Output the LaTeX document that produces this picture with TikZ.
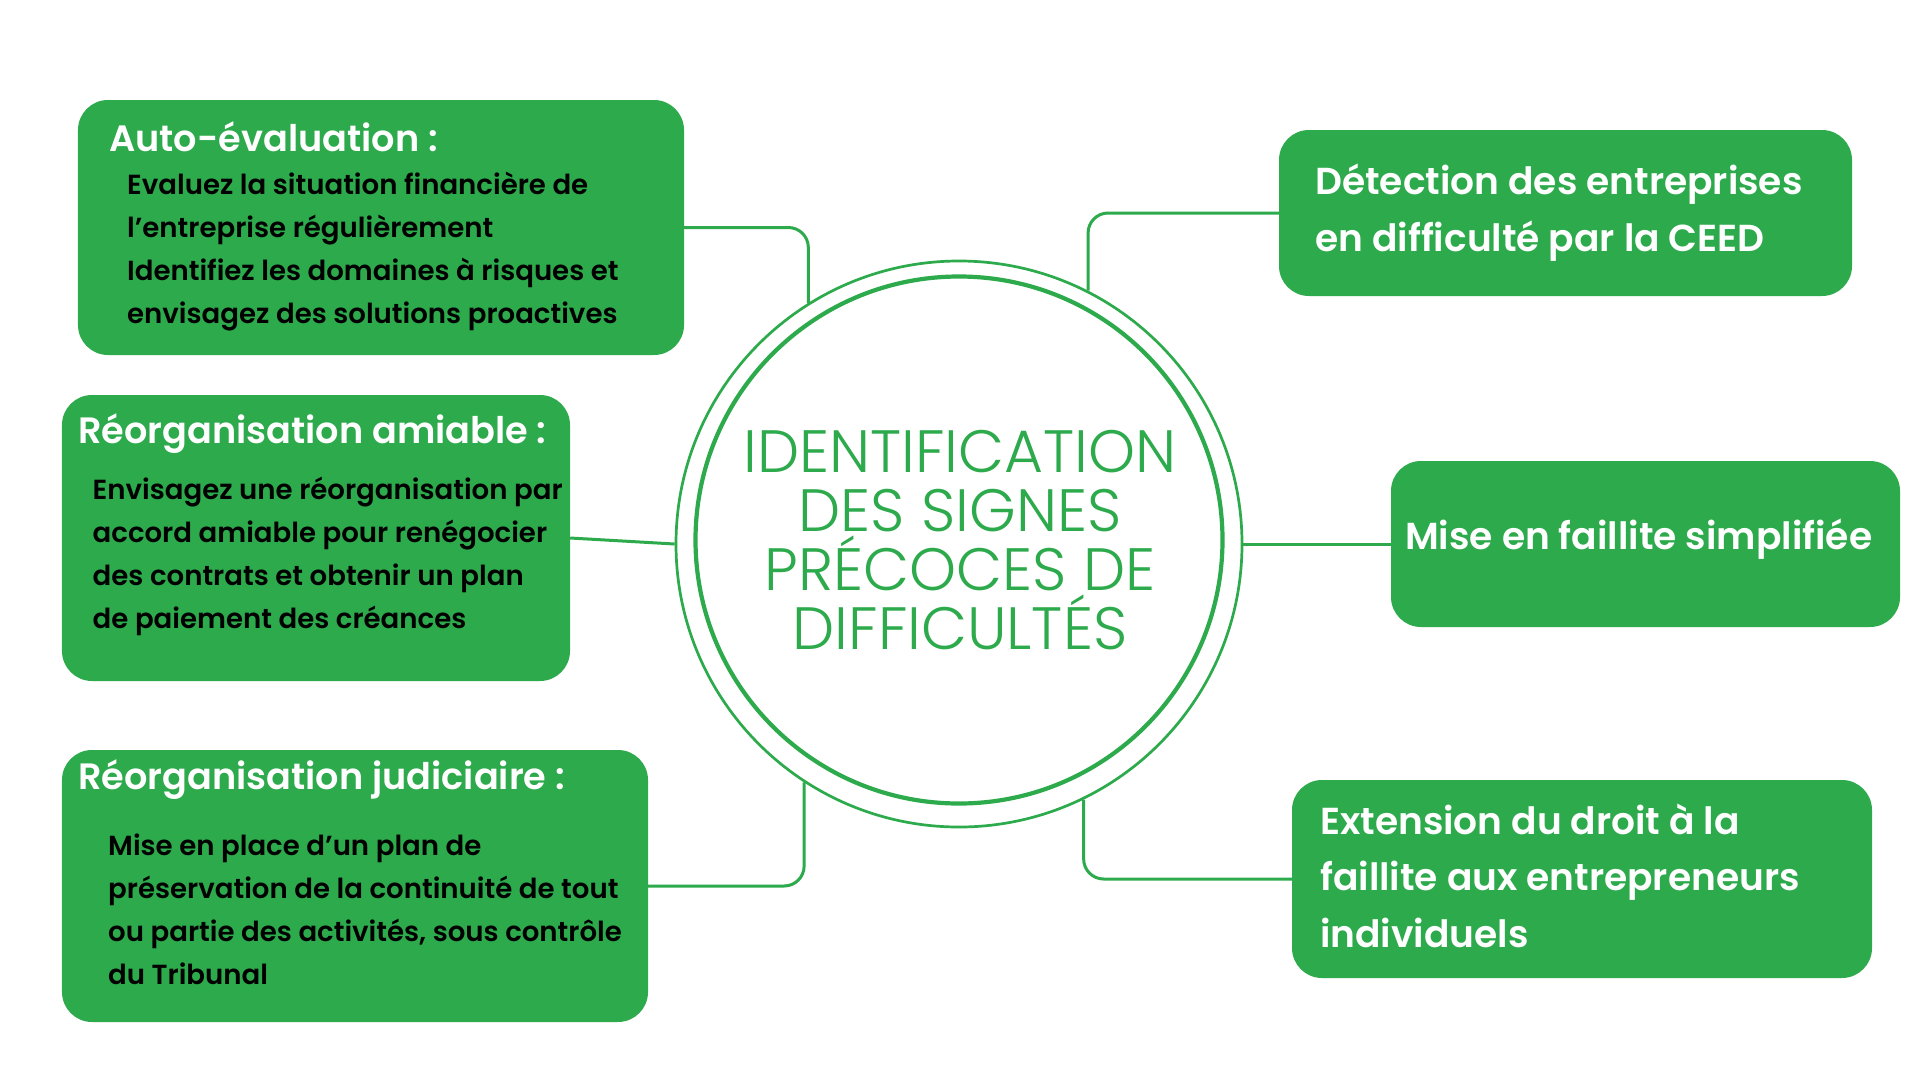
\documentclass[tikz,border=0pt]{standalone}
\usepackage{fontspec}
\setmainfont{Poppins}[BoldFont={* SemiBold}]
\newfontfamily\titlefont{Poppins Light}
\definecolor{brandgreen}{RGB}{45,170,76}
\begin{document}
\begin{tikzpicture}[x=1bp,y=-1bp,
  box/.style={fill=brandgreen, rounded corners=30bp, inner sep=0, draw=none},
  head/.style={text=white, font=\bfseries\fontsize{36.8}{40}\selectfont, anchor=base west, inner sep=0},
  body/.style={text=black, font=\bfseries\fontsize{27.7}{43}\selectfont, align=left, anchor=base west, inner sep=0},
  big/.style={text=white, font=\bfseries\fontsize{37.7}{56.5}\selectfont, align=left, anchor=base west, inner sep=0},
  link/.style={draw=brandgreen, line width=3bp, rounded corners=20bp}
]
\useasboundingbox[fill=white] (0,0) rectangle (1920,1080);

% central circles
\node[circle, draw=brandgreen, line width=2.7bp, minimum size=566bp, inner sep=0] (O) at (959,544) {};
\node[circle, draw=brandgreen, line width=4.2bp, minimum size=527bp, inner sep=0] (I) at (959,540) {};
\node[text=brandgreen, font=\titlefont\fontsize{60}{59}\selectfont, align=center, anchor=base, inner sep=0] (T) at (960,649) {IDENTIFICATION\\DES SIGNES\\PRÉCOCES DE\\DIFFICULTÉS};

% boxes
\node[box, minimum width=606bp, minimum height=255bp] (A) at (381,227.5) {};
\node[box, minimum width=508bp, minimum height=286bp] (B) at (316,538) {};
\node[box, minimum width=586bp, minimum height=272bp] (C) at (355,886) {};
\node[box, minimum width=573bp, minimum height=166bp] (D) at (1565.5,213) {};
\node[box, minimum width=509bp, minimum height=166bp] (E) at (1645.5,544) {};
\node[box, minimum width=580bp, minimum height=198bp] (F) at (1582,879) {};

% texts
\node[head] (At) at (109,151) {Auto-évaluation :};
\node[body] (Ab) at (127,323) {Evaluez la situation financière de\\l’entreprise régulièrement\\Identifiez les domaines à risques et\\envisagez des solutions proactives};
\node[head] (Bt) at (78,443) {Réorganisation amiable :};
\node[body] (Bb) at (92.5,628) {Envisagez une réorganisation par\\accord amiable pour renégocier\\des contrats et obtenir un plan\\de paiement des créances};
\node[head] (Ct) at (78,789) {Réorganisation judiciaire :};
\node[body] (Cb) at (108,984) {Mise en place d’un plan de\\préservation de la continuité de tout\\ou partie des activités, sous contrôle\\du Tribunal};
\node[big] (Dt) at (1315,251) {Détection des entreprises\\en difficulté par la CEED};
\node[big] (Et) at (1405,549) {Mise en faillite simplifiée};
\node[big] (Ft) at (1320,947) {Extension du droit à la\\faillite aux entrepreneurs\\individuels};

% connectors
\draw[link] (A.east) -| (O.122.5);
\draw[link] (D.west) -| (O.63.8);
\draw[link] (B.east) -- (O.west);
\draw[link] (O.east) -- (E.west);
\draw[link] (C.east) -| (O.237);
\draw[link] (F.west) -| (O.296.1);
\end{tikzpicture}
\end{document}
